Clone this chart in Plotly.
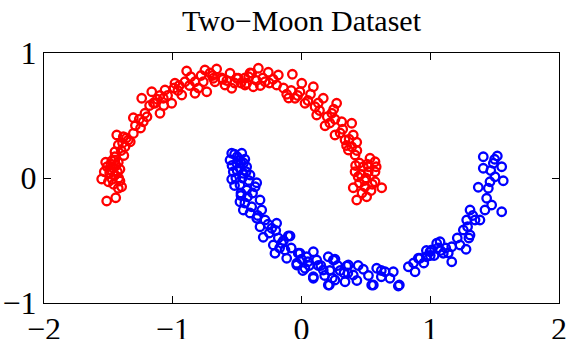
import plotly.graph_objects as go

# Upper moon (red) points
red_x = [-1.513, -1.443, -1.552, -1.532, -1.521, -1.474, -1.423, -1.487, -1.449, -1.41, -1.397, -1.423, -1.5, -1.46, -1.44, -1.47, -1.43, -1.42,
         -1.449, -1.423, -1.435, -1.384, -1.345, -1.306, -1.371, -1.33, -1.40, -1.36,
         -1.306, -1.229, -1.216, -1.26, -1.20, -1.241, -1.163, -1.138, -1.099, -1.06, -1.073, -1.008, -1.12, -1.18, -1.10, -1.04,
         -0.983, -0.93, -0.892, -0.905, -0.827, -0.827, -0.96, -0.87, -0.95,
         -0.75, -0.736, -0.672, -0.659, -0.594, -0.555, -0.491, -0.763, -0.685, -0.542, -0.503, -0.78, -0.71, -0.62,
         -0.426, -0.387, -0.335, -0.258, -0.18, -0.439, -0.374, -0.283, -0.193, -0.071, -0.30, -0.35, -0.22, -0.25,
         -0.115, -0.05, 0.002, 0.092, 0.027, -0.012, -0.08, -0.03, 0.05,
         0.105, 0.169, 0.273, 0.118, 0.183, 0.235, 0.312, 0.39, 0.14, 0.20, 0.26, 0.22,
         0.26, 0.338, 0.402, 0.429, 0.364, 0.416, 0.30, 0.35, 0.39,
         0.532, 0.571, 0.416, 0.519, 0.571, 0.45, 0.48, 0.44, 0.50,
         0.402, 0.493, 0.571, 0.623, 0.429, 0.506, 0.54, 0.47, 0.45,
         -1.48, -1.45, -1.39, -1.29, -1.25, -1.15, -1.07, -0.99, -0.86, -0.80, -0.69, -0.58, -0.47, -0.41, -0.32, -0.14, -0.10, 0.07, 0.13, 0.25, 0.32, 0.37, 0.43, 0.52,
         -1.49, -1.46, -1.41, -1.45, -1.38, -1.51, 0.46, 0.51, 0.55, 0.42, 0.49, 0.58, -0.52, -0.44, -0.61, -0.40]
red_y = [-0.184, -0.158, -0.008, 0.05, 0.126, 0.136, 0.126, 0.064, 0.024, -0.024, -0.07, -0.082, -0.03, 0.08, 0.1, -0.01, 0.05, 0.0,
         0.21, 0.264, 0.344, 0.33, 0.304, 0.357, 0.25, 0.29, 0.22, 0.32,
         0.482, 0.45, 0.518, 0.47, 0.49, 0.638, 0.69, 0.598, 0.518, 0.704, 0.638, 0.598, 0.63, 0.58, 0.66, 0.66,
         0.758, 0.664, 0.856, 0.77, 0.77, 0.678, 0.70, 0.74, 0.74,
         0.864, 0.69, 0.77, 0.872, 0.744, 0.838, 0.798, 0.77, 0.798, 0.718, 0.798, 0.82, 0.84, 0.80,
         0.758, 0.838, 0.878, 0.846, 0.824, 0.744, 0.73, 0.77, 0.744, 0.83, 0.80, 0.78, 0.79, 0.76,
         0.67, 0.638, 0.758, 0.73, 0.598, 0.69, 0.70, 0.66, 0.62,
         0.57, 0.638, 0.598, 0.504, 0.418, 0.518, 0.45, 0.438, 0.54, 0.49, 0.47, 0.44,
         0.344, 0.304, 0.344, 0.286, 0.224, 0.184, 0.36, 0.26, 0.25,
         0.158, 0.13, 0.05, 0.05, 0.05, 0.12, 0.09, 0.01, 0.0,
         -0.078, -0.07, -0.03, -0.078, -0.176, -0.15, -0.10, -0.12, -0.04,
         0.11, 0.17, 0.28, 0.42, 0.40, 0.60, 0.58, 0.72, 0.81, 0.72, 0.82, 0.78, 0.76, 0.81, 0.74, 0.72, 0.64, 0.67, 0.60, 0.55, 0.39, 0.31, 0.22, 0.09,
         0.04, -0.05, 0.07, 0.14, 0.18, 0.09, 0.03, 0.11, -0.05, 0.10, -0.02, 0.09, 0.76, 0.80, 0.79, 0.84]

# Lower moon (blue) points
blue_x = [-0.542, -0.464, -0.555, -0.503, -0.426, -0.53, -0.452, -0.542, -0.4, -0.348, -0.478, -0.426, -0.50, -0.48, -0.46, -0.49, -0.44, -0.51,
          -0.478, -0.322, -0.452, -0.387, -0.309, -0.42, -0.44, -0.38, -0.40,
          -0.348, -0.283, -0.193, -0.322, -0.231, -0.297, -0.103, -0.26, -0.20,
          -0.219, -0.154, -0.206, -0.128, -0.115, -0.089, -0.17, -0.14,
          -0.025, -0.037, 0.04, 0.092, 0.118, 0.027, 0.092, 0.169, -0.012, -0.037, 0.092, 0.06, 0.00,
          0.208, 0.26, 0.208, 0.26, 0.351, 0.338, 0.402, 0.48, 0.247, 0.216, 0.364, 0.30, 0.22, 0.28,
          0.545, 0.584, 0.713, 0.752, 0.687, 0.558, 0.649, 0.76, 0.62, 0.52,
          0.83, 0.92, 0.998, 1.05, 0.907, 0.882, 0.972, 1.011, 1.076, 1.101, 1.167, 1.167, 1.231, 1.278, 0.95, 1.03, 1.12, 0.87,
          1.257, 1.309, 1.283, 1.348, 1.309, 1.386, 1.29, 1.33,
          1.425, 1.477, 1.555, 1.438, 1.373, 1.451, 1.464, 1.503, 1.567, 1.412, 1.521, 1.412, 1.49, 1.555, 1.47, 1.50,
          -0.52, -0.47, -0.43, -0.47, -0.36, -0.34, -0.25, -0.18, -0.08, 0.01, 0.13, 0.18, 0.33, 0.43, 0.62, 0.97, 1.06, 1.21, 1.30,
          -0.54, -0.50, -0.45, -0.52, -0.47, -0.41, 0.05, 0.15, 0.24, 0.36, 0.44, 1.00, 1.08, 1.14]
blue_y = [0.198, 0.198, 0.144, 0.118, 0.09, 0.05, 0.038, -0.01, 0.024, -0.038, -0.056, -0.096, 0.17, 0.08, 0.0, 0.14, 0.15, 0.0,
          -0.19, -0.176, -0.256, -0.23, -0.256, -0.15, -0.20, -0.12, -0.28,
          -0.322, -0.336, -0.362, -0.39, -0.402, -0.474, -0.464, -0.37, -0.42,
          -0.536, -0.522, -0.602, -0.576, -0.642, -0.464, -0.56, -0.50,
          -0.602, -0.682, -0.63, -0.59, -0.656, -0.722, -0.79, -0.736, -0.602, -0.696, -0.802, -0.70, -0.65,
          -0.63, -0.65, -0.856, -0.816, -0.704, -0.83, -0.776, -0.73, -0.656, -0.856, -0.696, -0.74, -0.74, -0.70,
          -0.856, -0.722, -0.75, -0.864, -0.802, -0.856, -0.75, -0.856, -0.79, -0.78,
          -0.71, -0.642, -0.59, -0.522, -0.642, -0.75, -0.63, -0.576, -0.51, -0.602, -0.67, -0.55, -0.536, -0.57, -0.68, -0.62, -0.56, -0.68,
          -0.416, -0.456, -0.336, -0.336, -0.256, -0.336, -0.39, -0.30,
          -0.256, -0.216, -0.27, -0.162, -0.074, -0.082, -0.03, 0.01, -0.022, 0.17, 0.176, 0.078, 0.118, 0.09, 0.06, 0.15,
          0.19, 0.12, 0.05, -0.14, -0.07, -0.30, -0.44, -0.48, -0.56, -0.74, -0.70, -0.78, -0.76, -0.82, -0.74, -0.58, -0.56, -0.48, -0.48,
          0.10, 0.06, 0.12, -0.06, -0.12, -0.02, -0.67, -0.70, -0.80, -0.76, -0.70, -0.62, -0.58, -0.60]

x_ticks = [-2, -1, 0, 1, 2]
x_labels = ["\u22122", "\u22121", "0", "1", "2"]
y_ticks = [-1, 0, 1]
y_labels = ["\u22121", "0", "1"]

marker_common = dict(symbol="circle-open", size=8.5, line=dict(width=2.3))

fig = go.Figure()
fig.add_trace(go.Scatter(x=red_x, y=red_y, mode="markers",
                         marker=dict(color="#ff0000", **marker_common), showlegend=False))
fig.add_trace(go.Scatter(x=blue_x, y=blue_y, mode="markers",
                         marker=dict(color="#0000ff", **marker_common), showlegend=False))

axis_common = dict(showgrid=False, zeroline=False, showline=True, linecolor="black", linewidth=1,
                   mirror="ticks", ticks="inside", ticklen=7, tickcolor="black", automargin=False,
                   tickfont=dict(family="Liberation Serif", size=32, color="black"))

fig.update_xaxes(range=[-2, 2], tickvals=x_ticks, ticktext=x_labels, ticklabelstandoff=-2, **axis_common)
fig.update_yaxes(range=[-1, 1], tickvals=y_ticks, ticktext=y_labels, **axis_common)

fig.update_layout(
    width=567, height=339,
    margin=dict(l=44, r=8, t=53, b=36),
    paper_bgcolor="white", plot_bgcolor="white",
    title=dict(text="Two\u2212Moon Dataset", x=0.5, xref="paper", xanchor="center",
               y=1 - 20.5 / 339, yref="container", yanchor="middle", automargin=False,
               font=dict(family="Liberation Serif", size=30, color="black")),
)

fig.write_html("out.html", config={"displayModeBar": False},
               post_script="document.body.style.margin='0';document.body.style.overflow='hidden';")
